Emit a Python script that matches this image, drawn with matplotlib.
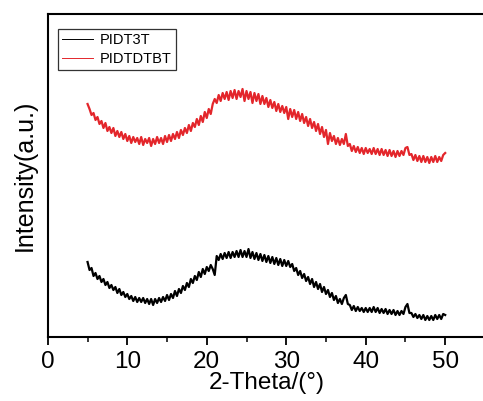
import numpy as np
import matplotlib.pyplot as plt

plt.rcParams['font.family'] = ['Liberation Sans', 'DejaVu Sans']

# XRD intensity (a.u.), 2-theta from 5 to 50 deg in 0.25 deg steps
pidtdtbt = [
    233, 228, 222, 224, 217, 220, 213, 216, 209, 214, 206, 210, 204, 209, 201, 206,
    200, 205, 198, 203, 196, 201, 194, 200, 195, 199, 193, 200, 192, 198, 194, 199,
    191, 198, 193, 200, 194, 199, 193, 201, 195, 202, 196, 203, 198, 205, 199, 207,
    202, 209, 204, 212, 206, 214, 210, 218, 212, 221, 215, 225, 219, 228, 223, 233,
    238, 234, 242, 236, 244, 238, 245, 237, 246, 239, 247, 238, 246, 240, 248, 236,
    246, 238, 245, 234, 244, 236, 243, 233, 241, 233, 239, 230, 237, 229, 235, 226,
    233, 225, 231, 224, 230, 218, 228, 220, 227, 218, 225, 216, 223, 214, 220, 211,
    218, 209, 215, 206, 213, 203, 210, 200, 207, 193, 204, 196, 201, 193, 199, 192,
    198, 193, 203, 191, 193, 186, 191, 185, 190, 184, 189, 183, 189, 184, 188, 183,
    189, 183, 188, 182, 188, 182, 187, 181, 187, 181, 186, 180, 186, 181, 186, 182,
    189, 190, 182, 183, 177, 182, 176, 181, 175, 181, 175, 180, 174, 180, 175, 181,
    175, 180, 176, 182, 184,
]
pidt3t = [
    75, 67, 69, 61, 64, 58, 61, 55, 58, 52, 55, 49, 52, 47, 50, 44,
    48, 42, 45, 40, 43, 38, 41, 36, 40, 35, 39, 35, 39, 34, 38, 33,
    38, 32, 38, 34, 39, 35, 40, 36, 42, 37, 43, 39, 46, 41, 48, 44,
    51, 47, 54, 50, 58, 54, 61, 57, 65, 60, 68, 63, 70, 66, 72, 68,
    62, 81, 77, 83, 78, 84, 79, 85, 79, 85, 80, 86, 80, 87, 80, 86,
    80, 88, 79, 85, 78, 84, 77, 83, 76, 82, 75, 81, 74, 80, 73, 79,
    72, 78, 71, 77, 71, 76, 70, 73, 66, 69, 62, 66, 59, 63, 56, 60,
    53, 58, 50, 55, 48, 53, 45, 50, 43, 47, 40, 44, 37, 41, 34, 38,
    33, 39, 42, 33, 32, 27, 31, 26, 30, 26, 29, 25, 29, 25, 29, 25,
    30, 25, 29, 24, 28, 24, 28, 23, 27, 23, 27, 22, 26, 22, 26, 23,
    30, 33, 24, 24, 20, 23, 19, 22, 18, 22, 17, 21, 17, 21, 17, 22,
    18, 22, 18, 23, 22,
]
labels = ['PIDT3T', 'PIDTDTBT']

fig = plt.figure(figsize=(4.83, 4.01), dpi=100)
ax = fig.add_axes([0.099, 0.1596, 0.905, 0.8055])

ax.plot(np.linspace(5, 50, len(pidt3t)), pidt3t, color='black', lw=1.6, label=labels[0])
ax.plot(np.linspace(5, 50, len(pidtdtbt)), pidtdtbt, color='#e3262b', lw=1.6, label=labels[1])

ax.set_xlim(0, 55)
ax.set_ylim(0, 323)
ax.set_xticks([0, 10, 20, 30, 40, 50])
ax.set_xticks([5, 15, 25, 35, 45], minor=True)
ax.set_yticks([])
ax.tick_params(axis='x', which='major', direction='out', length=6, width=1.3,
               labelsize=17.5, pad=4)
ax.tick_params(axis='x', which='minor', direction='out', length=3.5, width=1.1)
for s in ax.spines.values():
    s.set_linewidth(1.5)

ax.set_xlabel('2-Theta/(°)', fontsize=17.5, labelpad=-1)
ax.set_ylabel('Intensity(a.u.)', fontsize=18, labelpad=8)

leg = ax.legend(loc='upper left', bbox_to_anchor=(58 / 483, 1 - 29 / 401),
                bbox_transform=fig.transFigure, fontsize=10.5, frameon=True,
                fancybox=False, borderpad=0.3, handlelength=2.1,
                handletextpad=0.45, labelspacing=0.3, borderaxespad=0)
leg.get_frame().set_edgecolor('black')
leg.get_frame().set_linewidth(0.9)
for line in leg.get_lines():
    line.set_linewidth(0.7)

fig.savefig('out.png', dpi=100)
